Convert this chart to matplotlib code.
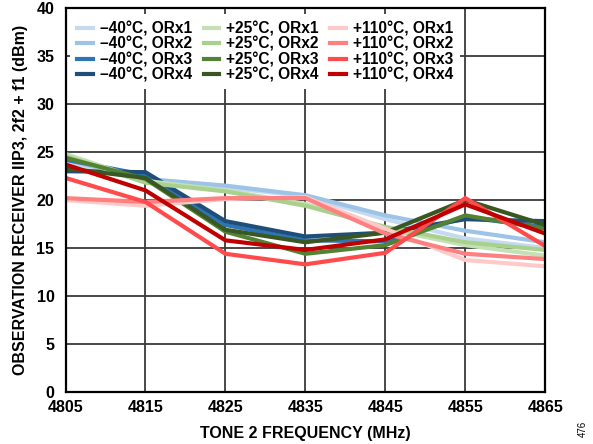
import matplotlib
matplotlib.use("Agg")
import matplotlib.pyplot as plt

plt.rcParams['font.family'] = ['Liberation Sans', 'DejaVu Sans']
plt.rcParams['font.weight'] = 'bold'

freq = [4805, 4815, 4825, 4835, 4845, 4855, 4865]

m40_orx1 = [24.0, 22.0, 21.3, 20.4, 18.0, 16.0, 15.0]
m40_orx2 = [24.2, 22.2, 21.5, 20.5, 18.4, 16.8, 15.6]
m40_orx3 = [24.2, 22.6, 17.4, 15.8, 15.7, 18.2, 17.2]
m40_orx4 = [23.0, 22.9, 17.8, 16.2, 16.6, 18.0, 17.8]
p25_orx1 = [24.8, 22.0, 21.0, 19.6, 17.0, 15.3, 14.2]
p25_orx2 = [24.6, 21.8, 20.9, 19.4, 17.2, 15.6, 14.8]
p25_orx3 = [24.4, 22.2, 16.7, 14.4, 15.3, 18.4, 17.0]
p25_orx4 = [23.3, 22.3, 16.9, 15.6, 16.6, 20.0, 17.4]
p110_orx1 = [20.0, 19.4, 20.1, 20.3, 17.0, 13.75, 13.1]
p110_orx2 = [20.2, 19.8, 20.2, 20.2, 16.5, 14.4, 13.85]
p110_orx3 = [22.3, 19.8, 14.4, 13.3, 14.5, 20.2, 15.2]
p110_orx4 = [23.7, 21.0, 15.8, 14.8, 15.9, 19.55, 16.5]

labels = ['\u201340\u00b0C, ORx1', '\u201340\u00b0C, ORx2', '\u201340\u00b0C, ORx3', '\u201340\u00b0C, ORx4',
          '+25\u00b0C, ORx1', '+25\u00b0C, ORx2', '+25\u00b0C, ORx3', '+25\u00b0C, ORx4',
          '+110\u00b0C, ORx1', '+110\u00b0C, ORx2', '+110\u00b0C, ORx3', '+110\u00b0C, ORx4']
series = [m40_orx1, m40_orx2, m40_orx3, m40_orx4,
          p25_orx1, p25_orx2, p25_orx3, p25_orx4,
          p110_orx1, p110_orx2, p110_orx3, p110_orx4]
colors = ['#c5daf0', '#9dc3e6', '#2e75b6', '#1f4e79',
          '#c5e0b4', '#a9d18e', '#548235', '#385723',
          '#ffc9c9', '#ff8080', '#ff4b4b', '#c00000']

yticks = [0, 5, 10, 15, 20, 25, 30, 35, 40]

fig = plt.figure(figsize=(5.93, 4.44), dpi=100)
ax = fig.add_axes([0.1105, 0.117, 0.809, 0.865])

for s, c, l in zip(series, colors, labels):
    ax.plot(freq, s, color=c, lw=3.0, label=l, solid_joinstyle='miter')

ax.set_xlim(4805, 4865)
ax.set_ylim(0, 40)
ax.set_xticks(freq)
ax.set_yticks(yticks)
ax.grid(True, color='#3a3a3a', lw=1.3)
ax.set_axisbelow(True)
for sp in ax.spines.values():
    sp.set_linewidth(1.6)
    sp.set_color('black')
ax.tick_params(axis='x', labelsize=11.5, length=0, pad=6)
ax.tick_params(axis='y', labelsize=11.5, length=0, pad=8)
for t in ax.get_xticklabels() + ax.get_yticklabels():
    t.set_fontweight('bold')

ax.set_xlabel('TONE 2 FREQUENCY (MHz)', fontsize=11.5, fontweight='bold', labelpad=8)
ax.set_ylabel('OBSERVATION RECEIVER IIP3, 2f2 + f1 (dBm)', fontsize=11.5, fontweight='bold', labelpad=6)

leg = ax.legend(ncol=3, loc='upper left', bbox_to_anchor=(0.0, 0.996), frameon=True,
                fancybox=False, edgecolor='none', facecolor='white', framealpha=1.0,
                fontsize=11.2, handlelength=1.0, handletextpad=0.45, columnspacing=0.75,
                labelspacing=0.02, borderaxespad=0.3, borderpad=0.45)
for t in leg.get_texts():
    t.set_fontweight('bold')

fig.text(0.983, 0.035, '476', rotation=90, fontsize=7, fontweight='normal', ha='center', va='center')

fig.savefig('out.png', dpi=100)
